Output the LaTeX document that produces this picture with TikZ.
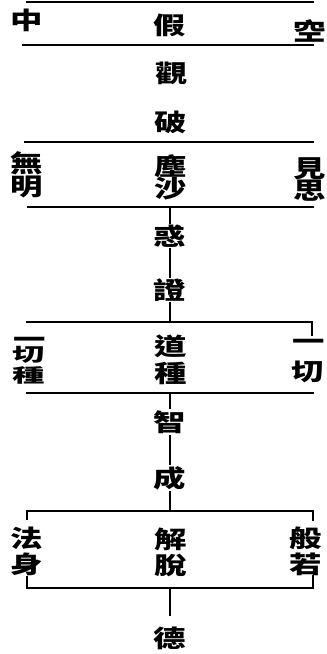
\documentclass[tikz,border=0pt]{standalone}
\usepackage{fontspec}
\usepackage{graphicx}
\newfontfamily\cjk[FakeStretch=1.35]{Noto Sans CJK TC}
\newcommand{\squash}[1]{\scalebox{1}[0.78]{#1}}
\newcommand{\flatone}{\raisebox{-9.1pt}{\smash{一}}}
\begin{document}
\begin{tikzpicture}[x=1pt,y=-1pt,
  lbl/.style={font=\cjk\bfseries\fontsize{24}{24}\selectfont, inner sep=0pt, outer sep=2pt},
  flat/.style={lbl, text height=2pt, text depth=2pt},
  rule/.style={line width=1.8pt, line cap=rect}]
\useasboundingbox (0,0) rectangle (327,654);
\fill[white] (0,0) rectangle (327,654);
% ---- group 1
\node[lbl] (zhong) at (27,20) {中};
\node[lbl] (jia) at (170,25) {假};
\node[lbl] (kong) at (310,31) {空};
\node[lbl] (guan) at (172,73) {觀};
\node[lbl] (po) at (171,122) {破};
\coordinate (t1l) at (27,2);   \coordinate (t1r) at (313,2);
\coordinate (b1l) at (23,45);  \coordinate (b1r) at (313,45);
\draw[rule] (t1l) -- (t1r);
\draw[rule] (b1l) -- (b1r);
% ---- group 2
\node[lbl] (wu) at (27,163) {無};
\node[lbl] (ming) at (27,187) {明};
\node[lbl] (chen) at (171,166) {塵};
\node[lbl] (sha) at (171,189) {沙};
\node[lbl] (jian) at (310,169) {見};
\node[lbl] (si) at (310,191) {思};
\coordinate (t2l) at (25,142);  \coordinate (t2r) at (313,142);
\coordinate (b2l) at (28,207);  \coordinate (b2r) at (313,207);
\coordinate (b2m) at (170,207);
\draw[rule] (t2l) -- (t2r);
\draw[rule] (b2l) -- (b2r);
\node[lbl] (huo) at (170,236) {惑};
\node[lbl] (zheng) at (170,290) {證};
\draw[rule] (b2m) -- (huo);
\draw[rule] (huo) -- (zheng);
% ---- group 3
\coordinate (t3l) at (27,322);  \coordinate (t3r) at (312,322);
\coordinate (t3m) at (170,322); \coordinate (t3e) at (312,335);
\draw[rule] (zheng) -- (t3m);
\draw[rule] (t3l) -- (t3r) -- (t3e);
\node[flat] (yia) at (30,339) {\flatone};
\node[lbl] (qiea) at (29,355) {\squash{切}};
\node[lbl] (zhonga) at (29,375) {\squash{種}};
\node[lbl] (dao) at (171,346) {道};
\node[lbl] (zhongb) at (171,373) {種};
\node[flat] (yib) at (309,341) {\flatone};
\node[lbl] (qieb) at (308,372) {切};
\coordinate (b3l) at (27,393);  \coordinate (b3r) at (313,393);
\coordinate (b3m) at (170,393);
\draw[rule] (b3l) -- (b3r);
\node[lbl] (zhi) at (170,422) {智};
\node[lbl] (cheng) at (170,478) {成};
\draw[rule] (b3m) -- (zhi);
\draw[rule] (zhi) -- (cheng);
% ---- group 4
\coordinate (t4l) at (27,511);  \coordinate (t4r) at (313,511);
\coordinate (t4m) at (170,511);
\coordinate (t4le) at (27,519); \coordinate (t4re) at (313,520);
\draw[rule] (cheng) -- (t4m);
\draw[rule] (t4le) -- (t4l) -- (t4r) -- (t4re);
\node[lbl] (fa) at (27,538) {法};
\node[lbl] (shen) at (27,564) {身};
\node[lbl] (jie) at (171,539) {解};
\node[lbl] (tuo) at (171,565) {脫};
\node[lbl] (ban) at (306,538) {般};
\node[lbl] (ruo) at (306,564) {若};
\coordinate (b4l) at (27,588);  \coordinate (b4r) at (313,588);
\coordinate (b4le) at (27,577); \coordinate (b4re) at (313,576);
\coordinate (b4m) at (170,588);
\draw[rule] (b4le) -- (b4l) -- (b4r) -- (b4re);
\node[lbl] (de) at (170,638) {德};
\draw[rule, shorten >=9pt] (b4m) -- (de);
\end{tikzpicture}
\end{document}
